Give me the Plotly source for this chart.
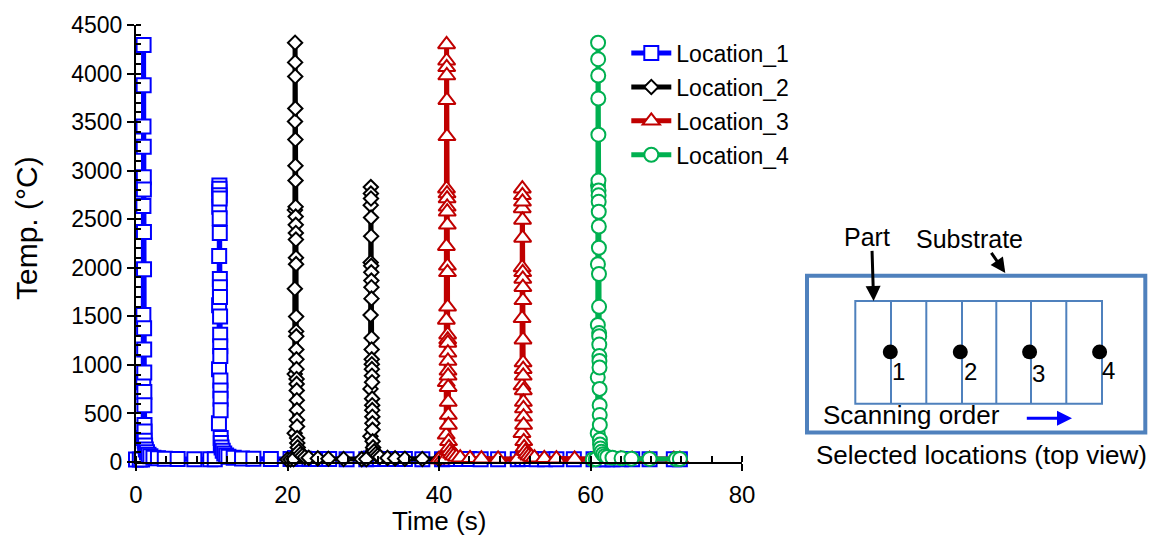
import plotly.graph_objects as go

# ---------------- data ----------------
time_1 = [0.0, 0.5, 0.8, 0.95, 0.96, 0.97, 0.98, 0.99, 1.0, 1.01, 1.02, 1.03, 1.04, 1.05, 1.06, 1.07,
          1.08, 1.09, 1.10, 1.11, 1.12, 1.13, 1.15, 1.2, 1.3, 1.45, 1.65, 1.9, 2.3, 2.9, 3.8, 5.5, 7.7,
          9.8, 10.4, 10.95, 10.96, 10.97, 10.98, 10.99, 11.0, 11.01, 11.02, 11.03, 11.04, 11.05, 11.06,
          11.07, 11.08, 11.09, 11.10, 11.11, 11.12, 11.13, 11.14, 11.15, 11.16, 11.17, 11.18, 11.2, 11.3,
          11.45, 11.65, 11.9, 12.2, 12.9, 14.0, 15.5, 17.8, 20.4, 21.0, 21.3, 21.6, 22.2, 22.9, 24.0,
          25.5, 27.8, 30.4, 31.0, 31.6, 32.2, 32.9, 34.0, 35.5, 37.8, 40.4, 41.0, 41.6, 42.2, 42.9, 44.0,
          45.5, 47.8, 50.4, 51.0, 51.6, 52.2, 52.9, 54.0, 55.5, 57.8, 60.4, 61.0, 61.6, 62.2, 62.9, 64.0,
          65.5, 67.8, 71.0, 71.8]
temp_1 = [25, 25, 27, 246, 821, 1513, 2635, 3456, 4294, 3879, 3246, 2932, 2807, 2368, 1986, 1378,
          1159, 922, 720, 585, 382, 314, 220, 170, 130, 100, 75, 58, 45, 38, 34, 31, 29,
          28, 28, 398, 956, 1614, 2121, 2628, 2780, 2848, 2814, 2746, 2713, 2510, 2358,
          1885, 1800, 1699, 1497, 1310, 1193, 1091, 838, 737, 652, 534, 246, 196, 150,
          115, 88, 68, 55, 44, 37, 33, 31, 30, 42, 38, 35, 33, 32, 31,
          30, 29, 29, 36, 33, 32, 31, 30, 30, 29, 29, 33, 31, 30, 30, 30,
          29, 29, 29, 31, 30, 30, 29, 29, 29, 28, 28, 30, 29, 29, 29, 28,
          28, 28, 28, 28]

time_2 = [20.0, 20.4, 20.8, 20.95, 20.96, 20.97, 20.98, 20.99, 21.0, 21.01, 21.02, 21.03, 21.04, 21.05,
          21.06, 21.07, 21.08, 21.09, 21.10, 21.11, 21.12, 21.13, 21.14, 21.15, 21.16, 21.17, 21.18,
          21.19, 21.20, 21.21, 21.22, 21.23, 21.24, 21.25, 21.26, 21.27, 21.29, 21.35, 21.5, 21.7, 21.95,
          22.3, 22.8, 24.0, 25.4, 27.4, 29.8, 30.4, 30.95, 30.96, 30.97, 30.98, 30.99, 31.0, 31.01, 31.02,
          31.03, 31.04, 31.05, 31.06, 31.07, 31.08, 31.09, 31.10, 31.11, 31.12, 31.13, 31.14, 31.15,
          31.16, 31.17, 31.18, 31.19, 31.20, 31.21, 31.22, 31.24, 31.3, 31.45, 31.65, 31.9, 32.2, 33.2,
          34.2, 35.5, 37.8, 40.0]
temp_2 = [25, 26, 28, 297, 905, 1784, 2594, 3506, 4317, 4115, 3970, 3641, 3320, 3050,
          2898, 2628, 2527, 2442, 2358, 2290, 2104, 2037, 1497, 1345, 1294, 1159, 1057,
          956, 855, 804, 737, 636, 534, 433, 365, 246, 196, 150, 110, 80, 62,
          50, 43, 37, 33, 31, 30, 30, 264, 753, 1513, 2054, 2645, 2831, 2764, 2713,
          2517, 2324, 2020, 1953, 1868, 1800, 1682, 1277, 1159, 1057, 1006, 956, 888,
          821, 652, 585, 534, 466, 398, 331, 213, 150, 110, 82, 64, 52, 42,
          37, 34, 31, 30]

time_3 = [40.0, 40.4, 40.8, 40.95, 40.96, 40.97, 40.98, 40.99, 41.0, 41.01, 41.02, 41.03, 41.04, 41.05,
          41.06, 41.07, 41.08, 41.09, 41.10, 41.11, 41.12, 41.13, 41.14, 41.15, 41.16, 41.17, 41.18,
          41.19, 41.20, 41.21, 41.22, 41.23, 41.24, 41.26, 41.32, 41.45, 41.65, 41.9, 42.3, 42.8, 44.1,
          45.6, 47.8, 50.4, 50.95, 50.96, 50.97, 50.98, 50.99, 51.0, 51.01, 51.02, 51.03, 51.04, 51.05,
          51.06, 51.07, 51.08, 51.09, 51.10, 51.11, 51.12, 51.13, 51.14, 51.15, 51.16, 51.17, 51.19,
          51.25, 51.4, 51.6, 51.85, 52.2, 52.6, 53.9, 55.5, 57.9, 60.4, 61.0, 61.6, 62.2, 62.9, 64.0,
          65.5, 67.8, 71.0, 71.8]
temp_3 = [26, 27, 29, 280, 821, 1463, 2222, 2814, 4300, 4132, 4064, 3980, 3726, 3354,
          2764, 2713, 2628, 2577, 2442, 2020, 1953, 1598, 1311, 1260, 1226, 1125, 1040,
          939, 888, 770, 618, 483, 382, 213, 150, 110, 82, 64, 52, 44, 38,
          34, 32, 31, 297, 787, 1480, 2003, 2611, 2814, 2746, 2679, 2493, 2307, 1953,
          1885, 1800, 1665, 1260, 1024, 956, 888, 737, 618, 551, 466, 382, 213,
          150, 110, 82, 64, 52, 45, 38, 34, 32, 31, 36, 33, 32, 31, 31,
          30, 30, 30, 30]

time_4 = [60.3, 60.7, 60.95, 60.96, 60.97, 60.98, 60.99, 61.0, 61.01, 61.02, 61.03, 61.04, 61.05, 61.06,
          61.07, 61.08, 61.09, 61.10, 61.11, 61.12, 61.13, 61.14, 61.15, 61.16, 61.17, 61.18, 61.19,
          61.20, 61.21, 61.22, 61.23, 61.24, 61.26, 61.32, 61.45, 61.65, 61.9, 62.2, 62.9, 64.1, 65.4,
          67.8, 71.3, 71.8]
temp_4 = [27, 29, 297, 872, 1412, 2037, 2848, 4317, 4148, 3980, 3743, 3371, 2898, 2797,
          2746, 2679, 2577, 2425, 2206, 1936, 1598, 1328, 1294, 1209, 1091, 1040, 973,
          753, 585, 483, 382, 230, 179, 140, 105, 80, 62, 52, 44, 38, 34,
          32, 31, 31]

series_names = ["Location_1", "Location_2", "Location_3", "Location_4"]
series_colors = ["#0000ff", "#000000", "#c00000", "#00b050"]
series_symbols = ["square", "diamond", "triangle-up", "circle"]
series_sizes = [14, 11, 15, 14]

x_ticks = [0, 20, 40, 60, 80]
y_ticks = [0, 500, 1000, 1500, 2000, 2500, 3000, 3500, 4000, 4500]

# ---------------- layout geometry ----------------
W, H = 1158, 540
L, R_EDGE, T, B = 135.7, 741.7, 18.3, 461.7
PW, PH = R_EDGE - L, B - T
FONT = "Liberation Sans, Arial, sans-serif"


def pxx(p):
    return (p - L) / PW


def pxy(p):
    return (B - p) / PH


fig = go.Figure()
times = [time_1, time_2, time_3, time_4]
temps = [temp_1, temp_2, temp_3, temp_4]
for i in range(4):
    fig.add_trace(go.Scatter(
        x=times[i], y=temps[i], name=series_names[i], mode="lines+markers",
        legendgroup=series_names[i],
        line=dict(color=series_colors[i], width=5),
        marker=dict(symbol=series_symbols[i], size=series_sizes[i],
                    color="white", line=dict(color=series_colors[i], width=2)),
        cliponaxis=False,
    ))

axis_common = dict(showgrid=False, zeroline=False, showline=True, linecolor="black", linewidth=2,
                   tickcolor="black", tickwidth=2, ticklen=7, ticks="outside")

fig.update_layout(
    width=W, height=H, autosize=False,
    margin=dict(l=L, r=W - R_EDGE, t=T, b=H - B, pad=0),
    paper_bgcolor="white", plot_bgcolor="white",
    font=dict(family=FONT, color="black"),
    xaxis=dict(range=[0, 80], tickvals=x_ticks, ticktext=[str(v) for v in x_ticks],
               tickfont=dict(family=FONT, size=24, color="black"),
               minor=dict(ticks="inside", dtick=4, tick0=0, ticklen=6, tickwidth=2, tickcolor="black"),
               ticklabelstandoff=3, **axis_common),
    yaxis=dict(range=[0, 4500], tickvals=y_ticks, ticktext=[str(v) for v in y_ticks],
               tickfont=dict(family=FONT, size=23, color="black"),
               minor=dict(ticks="inside", dtick=100, tick0=0, ticklen=5, tickwidth=1.5, tickcolor="black"),
               **axis_common),
    xaxis3=dict(range=[0, 80], overlaying="x", anchor="y", side="bottom", tickvals=x_ticks,
                ticks="inside", ticklen=7, tickwidth=2, tickcolor="black", showticklabels=False,
                showline=False, showgrid=False, zeroline=False),
    yaxis3=dict(range=[0, 4500], overlaying="y", anchor="x", side="left", tickvals=y_ticks,
                ticks="inside", ticklen=7, tickwidth=2, tickcolor="black", showticklabels=False,
                showline=False, showgrid=False, zeroline=False),
    showlegend=True,
    legend=dict(x=pxx(626), y=pxy(25), xanchor="left", yanchor="top", bgcolor="rgba(0,0,0,0)",
                font=dict(family=FONT, size=23, color="black"), tracegroupgap=1,
                itemwidth=40),
)

ann = []
# axis titles
ann.append(dict(text="Time (s)", x=0.5, y=pxy(522), xref="paper", yref="paper", showarrow=False,
                xanchor="center", yanchor="middle", font=dict(family=FONT, size=26, color="black")))
ann.append(dict(text="Temp. (°C)", x=pxx(26), y=pxy(224), xref="paper", yref="paper", showarrow=False,
                textangle=-90, xanchor="center", yanchor="middle", font=dict(family=FONT, size=30, color="black")))

# ---------------- inset schematic ----------------
BLUE_FRAME = "#4f81bd"
shapes = []
shapes.append(dict(type="rect", xref="paper", yref="paper", x0=pxx(806.7), x1=pxx(1145), y0=pxy(272.7), y1=pxy(431.7),
                   line=dict(color=BLUE_FRAME, width=4)))
shapes.append(dict(type="rect", xref="paper", yref="paper", x0=pxx(855), x1=pxx(1101.7), y0=pxy(298.3), y1=pxy(402.7),
                   line=dict(color=BLUE_FRAME, width=2)))
for xv in [890.7, 926, 961.7, 996, 1030.7, 1066]:
    shapes.append(dict(type="line", xref="paper", yref="paper", x0=pxx(xv), x1=pxx(xv), y0=pxy(298.3), y1=pxy(402.7),
                       line=dict(color=BLUE_FRAME, width=2)))
for xv in [890, 960, 1029.3, 1099.3]:
    shapes.append(dict(type="circle", xref="paper", yref="paper", x0=pxx(xv - 7.5), x1=pxx(xv + 7.5),
                       y0=pxy(350 + 7.5), y1=pxy(350 - 7.5), fillcolor="black", line=dict(color="black", width=0)))

for lbl, xv, yv in [("1", 898, 370), ("2", 970, 370), ("3", 1038, 372), ("4", 1108, 369)]:
    ann.append(dict(text=lbl, x=pxx(xv), y=pxy(yv), xref="paper", yref="paper", showarrow=False,
                    xanchor="center", yanchor="middle", font=dict(family=FONT, size=24, color="black")))

ann.append(dict(text="Part", x=pxx(866.5), y=pxy(233), xref="paper", yref="paper", showarrow=False,
                xanchor="center", yanchor="middle", font=dict(family=FONT, size=25, color="black")))
ann.append(dict(text="Substrate", x=pxx(969), y=pxy(235), xref="paper", yref="paper", showarrow=False,
                xanchor="center", yanchor="middle", font=dict(family=FONT, size=25, color="black")))
ann.append(dict(text="Scanning order", x=pxx(821), y=pxy(414), xref="paper", yref="paper", showarrow=False,
                xanchor="left", yanchor="middle", font=dict(family=FONT, size=26, color="black")))
ann.append(dict(text="Selected locations (top view)", x=pxx(981.5), y=pxy(455), xref="paper", yref="paper",
                showarrow=False, xanchor="center", yanchor="middle", font=dict(family=FONT, size=26, color="black")))

# arrows
ann.append(dict(text="", x=pxx(873.3), y=pxy(298.3), xref="paper", yref="paper", showarrow=True,
                ax=-1.6, ay=-51.6, arrowhead=2, arrowsize=1, arrowwidth=3, arrowcolor="black"))
ann.append(dict(text="", x=pxx(1005), y=pxy(270), xref="paper", yref="paper", showarrow=True,
                ax=-15, ay=-21.7, arrowhead=2, arrowsize=1, arrowwidth=3, arrowcolor="black"))
ann.append(dict(text="", x=pxx(1071.7), y=pxy(417.3), xref="paper", yref="paper", showarrow=True,
                ax=-46.7, ay=0, arrowhead=2, arrowsize=1, arrowwidth=3, arrowcolor="#0000ff"))

fig.update_layout(shapes=shapes, annotations=ann)
fig.write_html("out.html")
